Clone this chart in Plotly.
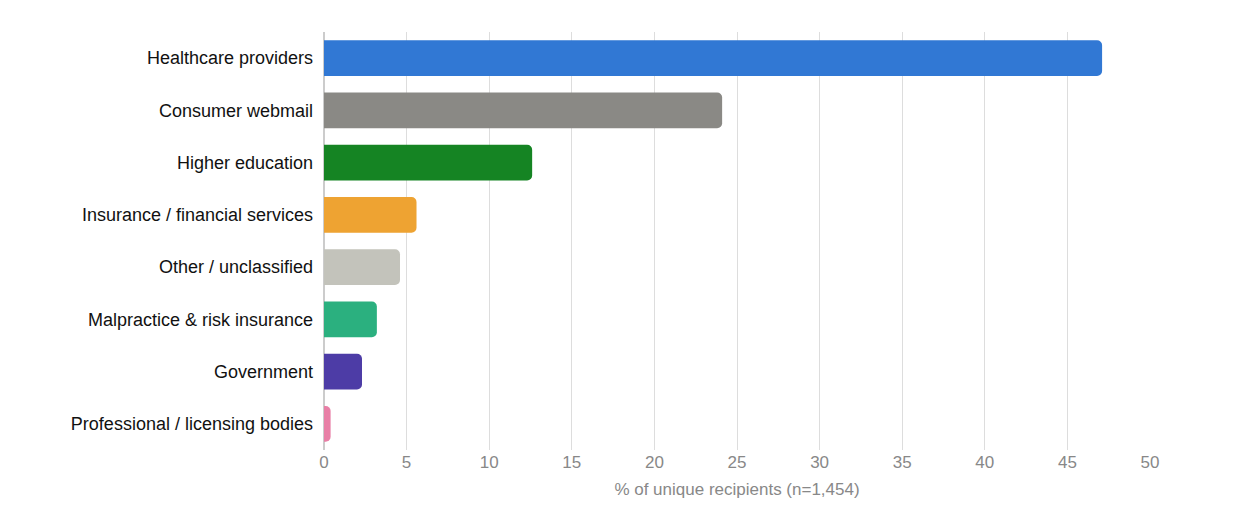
import plotly.graph_objects as go

categories = ["Healthcare providers", "Consumer webmail", "Higher education",
              "Insurance / financial services", "Other / unclassified",
              "Malpractice & risk insurance", "Government",
              "Professional / licensing bodies"]
values = [47.1, 24.1, 12.6, 5.6, 4.6, 3.2, 2.3, 0.4]
colors = ["#3178d4", "#8a8985", "#158423", "#eea332", "#c3c3bb",
          "#2bb07f", "#4d3ca6", "#e87fa6"]

fig = go.Figure(go.Bar(
    x=values, y=categories, orientation="h",
    marker=dict(color=colors, cornerradius=5, line=dict(width=0)),
    width=0.68, hovertemplate="%{y}: %{x}%<extra></extra>",
))
fig.update_layout(
    width=1250, height=532,
    margin=dict(l=316, r=108, t=24, b=90),
    paper_bgcolor="#ffffff", plot_bgcolor="#ffffff",
    font=dict(family="Arial, Liberation Sans, sans-serif", size=18),
    showlegend=False,
    xaxis=dict(range=[0, 50], dtick=5, showgrid=True, gridcolor="#dddddd",
               zeroline=True, zerolinecolor="#cccccc",
               tickfont=dict(color="#888888", size=17),
               title=dict(text="% of unique recipients (n=1,454)",
                          font=dict(color="#888888", size=17), standoff=12)),
    yaxis=dict(autorange="reversed", tickfont=dict(color="#111111", size=18),
               ticksuffix="  ", showgrid=False),
)
fig.write_html("out.html")
